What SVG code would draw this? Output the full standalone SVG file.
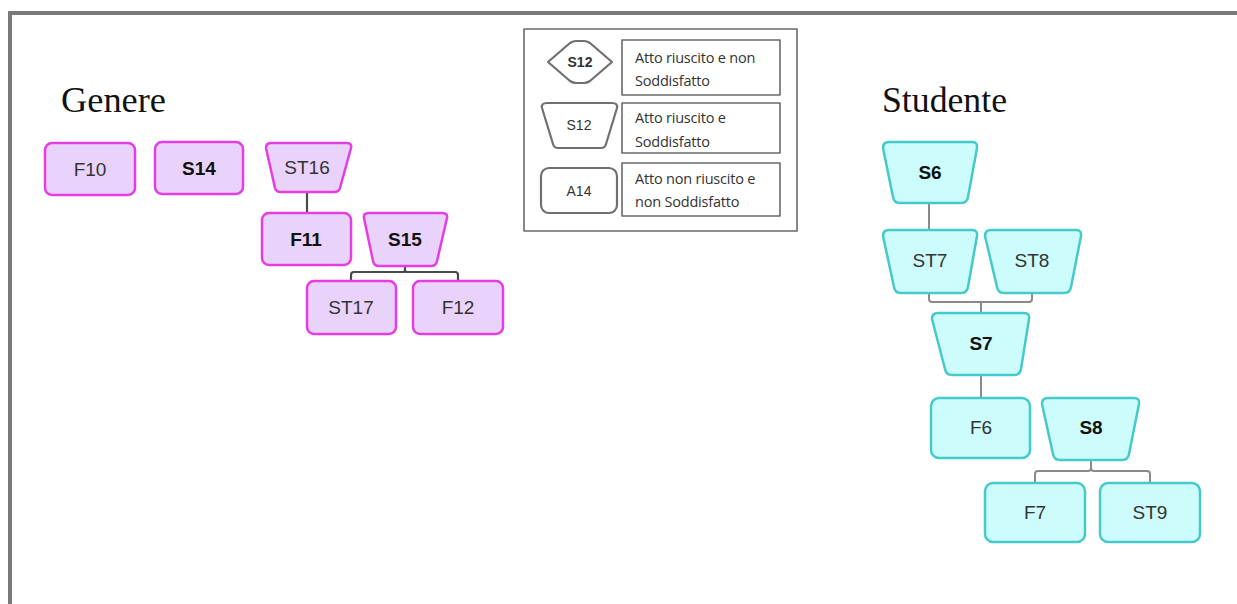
<svg xmlns="http://www.w3.org/2000/svg" width="1237" height="604" viewBox="0 0 1237 604">
  <style>
    .frame { fill: none; stroke: #7a7a7a; stroke-width: 4; }
    .title { font-family: "Liberation Serif", "DejaVu Serif", serif; font-size: 35px; fill: #111; }
    .g { fill: #ead3fb; stroke: #e43de4; stroke-width: 2.5; stroke-linejoin: round; }
    .s { fill: #ccfcfc; stroke: #45c9c9; stroke-width: 2.5; stroke-linejoin: round; }
    .lbl { font-family: "Liberation Sans", Arial, sans-serif; font-size: 19px; text-anchor: middle; fill: #333; }
    .b { font-weight: bold; fill: #111; }
    .cg { fill: none; stroke: #4a4a4a; stroke-width: 2.2; stroke-linejoin: round; }
    .cs { fill: none; stroke: #8a8a8a; stroke-width: 2; stroke-linejoin: round; }
    .leg { fill: #fff; stroke: #6a6a6a; stroke-width: 1.6; stroke-linejoin: round; }
    .sym { fill: #fff; stroke: #707070; stroke-width: 2.2; stroke-linejoin: round; }
    .legtxt { font-family: "Open Sans", "Liberation Sans", sans-serif; font-size: 14.5px; fill: #333; letter-spacing: -0.2px; }
    .legsym { font-family: "Liberation Sans", Arial, sans-serif; font-size: 14px; text-anchor: middle; fill: #333; }
  </style>

  <rect width="1237" height="604" fill="#fff"/>
  <!-- outer frame, open to the right and bottom -->
  <path class="frame" d="M10,606 V13 H1240"/>

  <!-- section titles -->
  <text class="title" x="61" y="112" textLength="105" lengthAdjust="spacingAndGlyphs">Genere</text>
  <text class="title" x="882" y="112" textLength="125" lengthAdjust="spacingAndGlyphs">Studente</text>

  <!-- connectors -->
  <g id="connectors">
    <path class="cg" d="M307,193 V213"/>
    <path class="cg" d="M405,265 V270 Q405,272 403,272 H354 Q351,272 351,275 V281"/>
    <path class="cg" d="M405,270 Q405,272 407,272 H455 Q458,272 458,275 V281"/>
    <path class="cs" d="M929,203 V230"/>
    <path class="cs" d="M929,293 V299 Q929,302 932,302 H1029 Q1032,302 1032,299 V293"/>
    <path class="cs" d="M981,302 V313"/>
    <path class="cs" d="M981,375 V398"/>
    <path class="cs" d="M1091,460 V468 Q1091,471 1088,471 H1038 Q1035,471 1035,474 V483"/>
    <path class="cs" d="M1091,468 Q1091,471 1094,471 H1147 Q1150,471 1150,474 V483"/>
  </g>

  <!-- Genere nodes -->
  <g id="F10"><rect class="g" x="45" y="143" width="90" height="52" rx="7"/><text class="lbl" x="90" y="176">F10</text></g>
  <g id="S14"><rect class="g" x="155" y="142" width="88" height="52" rx="7"/><text class="lbl b" x="199" y="175">S14</text></g>
  <g id="ST16"><path class="g" d="M271,143 H347 Q352,143 351,148 L340,188 Q339,192 334,192 H281 Q276,192 275,188 L266,148 Q266,143 271,143 Z"/><text class="lbl" x="307" y="174">ST16</text></g>
  <g id="F11"><rect class="g" x="262" y="213" width="89" height="52" rx="7"/><text class="lbl b" x="306" y="246">F11</text></g>
  <g id="S15"><path class="g" d="M369,213 H442 Q448,213 447,218 L437,261 Q436,266 431,266 H379 Q374,266 373,261 L364,218 Q363,213 369,213 Z"/><text class="lbl b" x="405" y="246">S15</text></g>
  <g id="ST17"><rect class="g" x="307" y="281" width="89" height="53" rx="7"/><text class="lbl" x="351" y="314">ST17</text></g>
  <g id="F12"><rect class="g" x="413" y="281" width="90" height="53" rx="7"/><text class="lbl" x="458" y="314">F12</text></g>

  <!-- Studente nodes -->
  <g id="S6"><path class="s" d="M889,142 H972 Q978,142 977,148 L968,197 Q967,203 961,203 H900 Q894,203 893,197 L883,148 Q883,142 889,142 Z"/><text class="lbl b" x="930" y="179">S6</text></g>
  <g id="ST7"><path class="s" d="M889,230 H972 Q978,230 977,236 L968,287 Q967,293 961,293 H901 Q895,293 894,287 L883,236 Q883,230 889,230 Z"/><text class="lbl" x="930" y="267">ST7</text></g>
  <g id="ST8"><path class="s" d="M991,230 H1076 Q1082,230 1081,236 L1071,287 Q1070,293 1064,293 H1004 Q998,293 997,287 L985,236 Q985,230 991,230 Z"/><text class="lbl" x="1032" y="267">ST8</text></g>
  <g id="S7"><path class="s" d="M938,313 H1024 Q1030,313 1029,319 L1021,369 Q1020,375 1014,375 H952 Q946,375 945,369 L932,319 Q932,313 938,313 Z"/><text class="lbl b" x="981" y="350">S7</text></g>
  <g id="F6"><rect class="s" x="931" y="398" width="99" height="60" rx="8"/><text class="lbl" x="981" y="434">F6</text></g>
  <g id="S8"><path class="s" d="M1048,398 H1134 Q1140,398 1139,404 L1129,454 Q1128,460 1122,460 H1060 Q1054,460 1053,454 L1042,404 Q1042,398 1048,398 Z"/><text class="lbl b" x="1091" y="434">S8</text></g>
  <g id="F7"><rect class="s" x="985" y="483" width="100" height="59" rx="8"/><text class="lbl" x="1035" y="519">F7</text></g>
  <g id="ST9"><rect class="s" x="1100" y="483" width="100" height="59" rx="8"/><text class="lbl" x="1150" y="519">ST9</text></g>

  <!-- legend -->
  <g id="legend">
    <rect class="leg" x="524" y="29" width="273" height="202"/>
    <path class="sym" d="M548,62 L570,43 Q573,41 576,41 H584 Q587,41 590,43 L612,62 L590,81 Q587,83 584,83 H576 Q573,83 570,81 Z"/>
    <text class="legsym" x="580" y="67" font-weight="bold">S12</text>
    <rect class="leg" x="622" y="40" width="158" height="55"/>
    <text class="legtxt" x="635" y="63">Atto riuscito e non</text>
    <text class="legtxt" x="635" y="86">Soddisfatto</text>

    <path class="sym" d="M547,103 H612 Q618,103 617,108 L606,144 Q605,148 601,148 H558 Q554,148 553,144 L542,108 Q541,103 547,103 Z"/>
    <text class="legsym" x="579" y="130">S12</text>
    <rect class="leg" x="622" y="103" width="158" height="50"/>
    <text class="legtxt" x="635" y="123">Atto riuscito e</text>
    <text class="legtxt" x="635" y="147">Soddisfatto</text>

    <rect class="sym" x="541" y="168" width="76" height="45" rx="8"/>
    <text class="legsym" x="579" y="196">A14</text>
    <rect class="leg" x="622" y="163" width="158" height="53"/>
    <text class="legtxt" x="635" y="184">Atto non riuscito e</text>
    <text class="legtxt" x="635" y="207">non Soddisfatto</text>
  </g>
</svg>
